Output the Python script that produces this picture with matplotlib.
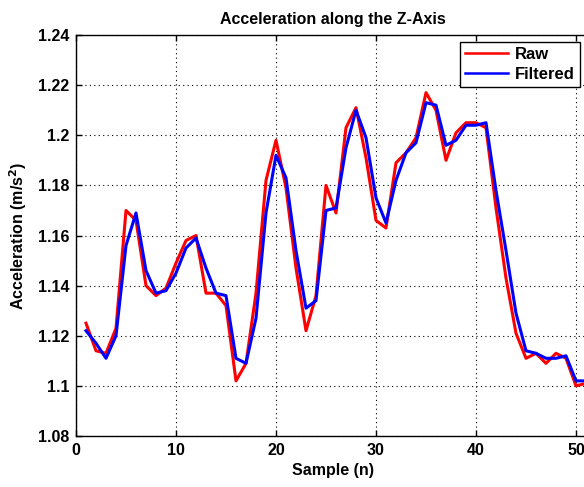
""" Acceleration along the Z-Axis: raw vs. filtered samples """

import numpy as np
import matplotlib.pyplot as plt

# Data
sample = np.arange(1, 52)

raw = [1.125, 1.114, 1.113, 1.123, 1.170, 1.166, 1.140, 1.136, 1.139, 1.149,
       1.158, 1.160, 1.137, 1.137, 1.132, 1.102, 1.109, 1.137, 1.182, 1.198,
       1.179, 1.147, 1.122, 1.136, 1.180, 1.169, 1.203, 1.211, 1.191, 1.166,
       1.163, 1.189, 1.193, 1.199, 1.217, 1.210, 1.190, 1.201, 1.205, 1.205,
       1.203, 1.171, 1.143, 1.121, 1.111, 1.113, 1.109, 1.113, 1.111, 1.100,
       1.101]

filtered = [1.122, 1.117, 1.111, 1.120, 1.156, 1.169, 1.146, 1.137, 1.138, 1.145,
            1.155, 1.159, 1.147, 1.137, 1.136, 1.111, 1.109, 1.127, 1.169, 1.192,
            1.183, 1.154, 1.131, 1.134, 1.170, 1.171, 1.195, 1.210, 1.199, 1.175,
            1.165, 1.182, 1.193, 1.197, 1.213, 1.212, 1.196, 1.198, 1.204, 1.204,
            1.205, 1.178, 1.154, 1.129, 1.114, 1.113, 1.111, 1.111, 1.112, 1.102,
            1.102]

x_ticks = [0, 10, 20, 30, 40, 50]
y_ticks = [1.08, 1.10, 1.12, 1.14, 1.16, 1.18, 1.20, 1.22, 1.24]
y_tick_labels = ['1.08', '1.1', '1.12', '1.14', '1.16', '1.18', '1.2', '1.22', '1.24']

plt.rcParams['font.family'] = ['Liberation Sans', 'DejaVu Sans']
plt.rcParams['font.weight'] = 'bold'
plt.rcParams['font.size'] = 11.5

W, H = 584, 487
fig = plt.figure(figsize=(W / 100, H / 100), dpi=100)
# axes box in pixels: left 76, right beyond the image (cropped), top 35, bottom 436
ax = fig.add_axes([76 / W, (H - 436) / H, (590 - 76) / W, (436 - 35) / H])

ax.plot(sample, raw, color='red', linewidth=2.2, label='Raw')
ax.plot(sample, filtered, color='blue', linewidth=2.2, label='Filtered')

ax.set_xlim(0, 51.4)
ax.set_ylim(1.08, 1.24)
ax.set_xticks(x_ticks)
ax.set_yticks(y_ticks)
ax.set_yticklabels(y_tick_labels)
ax.tick_params(direction='in', length=4, width=1, color='black',
               labelsize=11.5, top=True, right=True, pad=5)
ax.grid(True, linestyle=(0, (1, 3)), color='black', linewidth=0.8)
for spine in ax.spines.values():
    spine.set_linewidth(1)

ax.set_title('Acceleration along the Z-Axis', fontsize=11.5, fontweight='bold', pad=8)
ax.set_xlabel('Sample (n)', fontsize=11.5, fontweight='bold', labelpad=4)
ax.set_ylabel('Acceleration (m/s$^2$)', fontsize=11.5, fontweight='bold', labelpad=6)

leg = ax.legend(loc='upper right', bbox_to_anchor=(580 / W, (H - 42) / H),
                bbox_transform=fig.transFigure, fancybox=False, framealpha=1,
                edgecolor='black', fontsize=12, handlelength=2.6,
                borderpad=0.3, labelspacing=0.3, handletextpad=0.4,
                borderaxespad=0)
leg.get_frame().set_linewidth(1)
for line in leg.get_lines():
    line.set_linewidth(1.8)

plt.savefig('out.png', dpi=100)
